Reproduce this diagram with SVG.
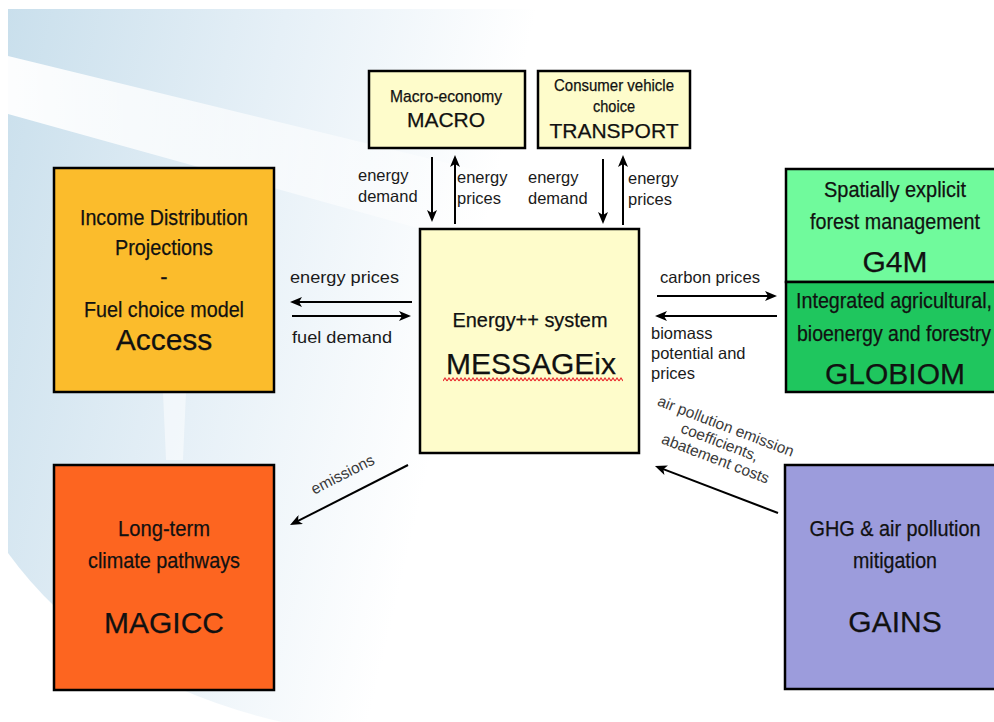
<svg xmlns="http://www.w3.org/2000/svg" width="994" height="722" viewBox="0 0 994 722">
<defs>
<linearGradient id="bgGrad" x1="8" y1="0" x2="600" y2="140" gradientUnits="userSpaceOnUse">
<stop offset="0" stop-color="#C9DFEC"/>
<stop offset="0.45" stop-color="#E6F0F7"/>
<stop offset="0.85" stop-color="#FFFFFF"/>
<stop offset="1" stop-color="#FFFFFF"/>
</linearGradient>
<linearGradient id="stripeGrad" x1="8" y1="0" x2="600" y2="0" gradientUnits="userSpaceOnUse">
<stop offset="0" stop-color="#FFFFFF" stop-opacity="0.95"/>
<stop offset="1" stop-color="#FFFFFF" stop-opacity="0.2"/>
</linearGradient>
<marker id="ah" viewBox="0 0 12 10" refX="8" refY="5" markerWidth="12" markerHeight="10" markerUnits="userSpaceOnUse" orient="auto">
<path d="M0,0 L12,5 L0,10 L3,5 Z" fill="#000"/>
</marker>
<pattern id="wave" x="443" y="377" width="4" height="5" patternUnits="userSpaceOnUse">
<path d="M0,4 L2,1 L4,4" fill="none" stroke="#E8262B" stroke-width="1.1"/>
</pattern>
<style>
.box{stroke:#000;stroke-width:2.5}
.yel{fill:#FEFCCB}
.txt{font-family:"Liberation Sans",Arial,Helvetica,sans-serif;fill:#111;text-anchor:middle;stroke:#111;stroke-width:0.25}
.lab{font-family:"Liberation Sans",Arial,Helvetica,sans-serif;fill:#1a1a1a;font-size:16.5px}
.gray{font-family:"Liberation Sans",Arial,Helvetica,sans-serif;fill:#3a3a3a;font-size:15.5px;text-anchor:middle}
.big{font-size:30px}
.mid{font-size:22px}
.sm{font-size:17px}
.conn line{stroke:#000;stroke-width:2;marker-end:url(#ah)}
</style>
</defs>

<g id="background">
<rect x="0" y="0" width="994" height="722" fill="#FFFFFF"/>
<path d="M8,9 H640 V722 H282 Q100,680 8,553 Z" fill="url(#bgGrad)"/>
<polygon points="8,56 640,210 640,290 8,114" fill="url(#stripeGrad)"/>
<polygon points="163,393 186,393 183,460 166,460" fill="#FFFFFF" fill-opacity="0.5"/>
</g>

<g id="macro">
<rect class="box yel" x="369" y="71" width="156" height="77"/>
<text class="txt sm" x="446" y="102" textLength="112" lengthAdjust="spacingAndGlyphs">Macro-economy</text>
<text class="txt" x="446" y="127" font-size="21">MACRO</text>
</g>

<g id="transport">
<rect class="box yel" x="538" y="71" width="152" height="77"/>
<text class="txt sm" x="614" y="91" textLength="120" lengthAdjust="spacingAndGlyphs">Consumer vehicle</text>
<text class="txt sm" x="614" y="112" textLength="42" lengthAdjust="spacingAndGlyphs">choice</text>
<text class="txt" x="614" y="138" font-size="21">TRANSPORT</text>
</g>

<g id="messageix">
<rect class="box yel" x="420" y="229" width="219" height="224"/>
<text class="txt" x="530" y="327" font-size="20" textLength="155" lengthAdjust="spacingAndGlyphs">Energy++ system</text>
<text class="txt big" x="531" y="374">MESSAGEix</text>
<rect x="443" y="377" width="180" height="5" fill="url(#wave)"/>
</g>

<g id="access">
<rect class="box" x="54" y="168" width="220" height="224" fill="#FBBC2C"/>
<text class="txt mid" x="164" y="225" textLength="168" lengthAdjust="spacingAndGlyphs">Income Distribution</text>
<text class="txt mid" x="164" y="255" textLength="98" lengthAdjust="spacingAndGlyphs">Projections</text>
<text class="txt mid" x="164" y="284">-</text>
<text class="txt mid" x="164" y="317" textLength="160" lengthAdjust="spacingAndGlyphs">Fuel choice model</text>
<text class="txt big" x="164" y="350">Access</text>
</g>

<g id="magicc">
<rect class="box" x="54" y="465" width="220" height="225" fill="#FD6520"/>
<text class="txt mid" x="164" y="536" textLength="92" lengthAdjust="spacingAndGlyphs">Long-term</text>
<text class="txt mid" x="164" y="568" textLength="152" lengthAdjust="spacingAndGlyphs">climate pathways</text>
<text class="txt big" x="164" y="633">MAGICC</text>
</g>

<g id="g4m">
<rect class="box" x="786" y="169" width="230" height="113" fill="#70FA9C"/>
<text class="txt mid" x="895" y="197" textLength="142" lengthAdjust="spacingAndGlyphs">Spatially explicit</text>
<text class="txt mid" x="895" y="229" textLength="170" lengthAdjust="spacingAndGlyphs">forest management</text>
<text class="txt big" x="895" y="272">G4M</text>
</g>

<g id="globiom">
<rect class="box" x="786" y="282" width="230" height="110" fill="#1FC65E"/>
<text class="txt mid" x="894" y="308" textLength="196" lengthAdjust="spacingAndGlyphs">Integrated agricultural,</text>
<text class="txt mid" x="894" y="341" textLength="194" lengthAdjust="spacingAndGlyphs">bioenergy and forestry</text>
<text class="txt big" x="895" y="384">GLOBIOM</text>
</g>

<g id="gains">
<rect class="box" x="785" y="465" width="230" height="224" fill="#9C9CDC"/>
<text class="txt mid" x="895" y="536" textLength="171" lengthAdjust="spacingAndGlyphs">GHG &amp; air pollution</text>
<text class="txt mid" x="895" y="568" textLength="84" lengthAdjust="spacingAndGlyphs">mitigation</text>
<text class="txt big" x="895" y="632">GAINS</text>
</g>

<g id="connectors" class="conn">
<line x1="432" y1="157" x2="432" y2="218"/>
<line x1="455" y1="224" x2="455" y2="159"/>
<line x1="603" y1="159" x2="603" y2="220"/>
<line x1="623" y1="225" x2="623" y2="159"/>
<line x1="412" y1="302" x2="294" y2="302"/>
<line x1="292" y1="316" x2="407" y2="316"/>
<line x1="657" y1="296" x2="773" y2="296"/>
<line x1="777" y1="316" x2="659" y2="316"/>
<line x1="408" y1="465" x2="293.6" y2="523.2"/>
<line x1="778" y1="513" x2="658.7" y2="467.4"/>
</g>

<g id="labels">
<text class="lab" x="358" y="181">energy</text>
<text class="lab" x="358" y="202">demand</text>
<text class="lab" x="457" y="183">energy</text>
<text class="lab" x="457" y="204">prices</text>
<text class="lab" x="528" y="183">energy</text>
<text class="lab" x="528" y="204">demand</text>
<text class="lab" x="628" y="184">energy</text>
<text class="lab" x="628" y="205">prices</text>
<text class="lab" x="290" y="283" font-size="17" textLength="109" lengthAdjust="spacingAndGlyphs">energy prices</text>
<text class="lab" x="292" y="343" font-size="17" textLength="100" lengthAdjust="spacingAndGlyphs">fuel demand</text>
<text class="lab" x="660" y="283" textLength="100" lengthAdjust="spacingAndGlyphs">carbon prices</text>
<text class="lab" x="651" y="339">biomass</text>
<text class="lab" x="651" y="359">potential and</text>
<text class="lab" x="651" y="379">prices</text>
<text class="gray" transform="translate(345,479) rotate(-27)">emissions</text>
<g transform="translate(724,431) rotate(21)">
<text class="gray" x="0" y="0">air pollution emission</text>
<text class="gray" x="0" y="17">coefficients,</text>
<text class="gray" x="2" y="34">abatement costs</text>
</g>
</g>
</svg>
